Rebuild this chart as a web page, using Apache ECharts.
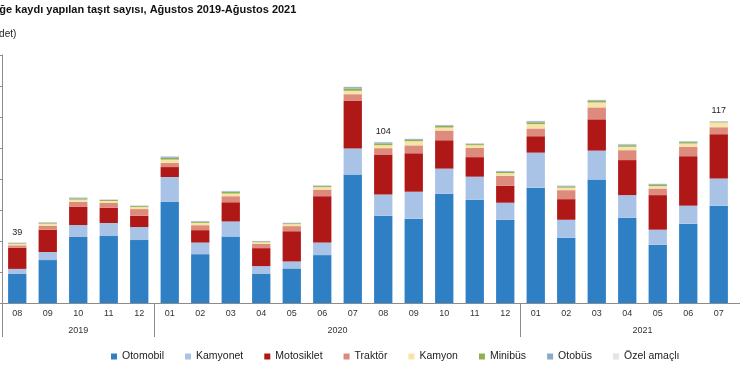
<!DOCTYPE html>
<html>
<head>
<meta charset="utf-8">
<script src="https://cdn.jsdelivr.net/npm/echarts@6/dist/echarts.min.js"></script>
<style>
  html, body { margin: 0; padding: 0; background: #fff; }
  #chart { width: 740px; height: 367px; }
</style>
</head>
<body>
<div id="chart"></div>
<script>
// Months (Ağustos 2019 - Ağustos 2021); the final month lies beyond the visible frame
const months = ['08','09','10','11','12','01','02','03','04','05','06','07','08','09','10','11','12','01','02','03','04','05','06','07','08'];
const years = ['2019', '2020', '2021'];
const yearMonthCounts = [5, 12, 8];

// Values in thousands (bin adet)
const otomobil   = [18.7, 27.7, 42.6, 43.2, 40.6, 65.2, 31.5, 42.9, 19.0, 22.3, 30.9, 82.9, 56.3, 54.4, 70.5, 66.6, 53.7, 74.4, 42.1, 79.6, 55.0, 37.6, 51.2, 62.8];
const kamyonet   = [3.3, 5.2, 7.7, 8.4, 8.4, 16.1, 7.5, 9.7, 4.8, 4.5, 8.1, 16.8, 13.7, 17.4, 16.2, 14.9, 11.0, 22.6, 11.6, 18.7, 14.6, 9.7, 11.6, 17.5];
const motosiklet = [13.7, 14.4, 11.9, 9.9, 7.3, 6.4, 8.0, 12.4, 11.6, 19.5, 29.9, 30.9, 25.8, 24.8, 18.3, 12.6, 11.0, 10.6, 13.3, 20.2, 22.6, 22.3, 31.9, 28.6];
const traktor    = [1.5, 2.4, 3.0, 3.0, 4.3, 2.6, 3.2, 3.9, 2.8, 3.3, 4.3, 4.1, 4.1, 5.1, 6.3, 6.0, 6.4, 5.0, 5.8, 7.7, 6.4, 4.3, 6.1, 4.5];
const kamyon     = [1.1, 1.5, 1.5, 1.3, 1.3, 2.2, 1.5, 1.7, 1.0, 1.3, 1.5, 2.2, 1.9, 2.7, 1.9, 1.7, 1.7, 2.8, 1.6, 3.2, 2.2, 1.5, 2.1, 3.1];
const minibus    = [0.4, 0.6, 0.8, 0.6, 0.6, 1.2, 0.7, 1.0, 0.5, 0.5, 0.7, 1.5, 1.2, 0.9, 1.0, 0.7, 0.8, 1.2, 0.8, 1.0, 1.0, 0.9, 0.9, 0.4];
const otobus     = [0.2, 0.3, 0.5, 0.3, 0.3, 0.8, 0.4, 0.5, 0.3, 0.3, 0.4, 0.9, 0.7, 0.5, 0.5, 0.4, 0.5, 0.7, 0.5, 0.5, 0.6, 0.5, 0.5, 0.3];
const ozelAmacli = [0.1, 0.2, 0.2, 0.2, 0.2, 0.3, 0.2, 0.3, 0.1, 0.2, 0.2, 0.4, 0.3, 0.3, 0.3, 0.2, 0.2, 0.3, 0.2, 0.3, 0.3, 0.3, 0.3, 0.1];

// Months whose totals are labelled
const labelledIdx = [0, 12, 23];

const seriesDefs = [
  { name: 'Otomobil',    data: otomobil,   color: '#2e7fc3' },
  { name: 'Kamyonet',    data: kamyonet,   color: '#a9c3e6' },
  { name: 'Motosiklet',  data: motosiklet, color: '#b01717' },
  { name: 'Traktör',     data: traktor,    color: '#dc8b7c' },
  { name: 'Kamyon',      data: kamyon,     color: '#f8e4a8' },
  { name: 'Minibüs',     data: minibus,    color: '#92b04f' },
  { name: 'Otobüs',      data: otobus,     color: '#8aa9cc' },
  { name: 'Özel amaçlı', data: ozelAmacli, color: '#e4e4e4' }
];

const totals = otomobil.map((_, i) => seriesDefs.reduce((s, d) => s + d.data[i], 0));

// Year grouping axis: half-category points
const nPts = months.length * 2 + 1;
const yearAxisData = new Array(nPts).fill('');
const yearTickIdx = [];
const yearLabelIdx = [];
let start = 0;
years.forEach((y, k) => {
  yearTickIdx.push(start * 2);
  const c = start * 2 + yearMonthCounts[k];
  yearAxisData[c] = y;
  yearLabelIdx.push(c);
  start += yearMonthCounts[k];
});
yearTickIdx.push(nPts - 1);

const axisColor = '#8c8c8c';
const fontFam = '"Liberation Sans", Arial, sans-serif';

const chart = echarts.init(document.getElementById('chart'), null, { renderer: 'canvas' });

const series = seriesDefs.map((d, si) => {
  const s = {
    name: d.name,
    type: 'bar',
    stack: 'total',
    xAxisIndex: 0,
    data: d.data,
    barCategoryGap: '40%',
    itemStyle: { color: d.color },
    emphasis: { disabled: true }
  };
  if (si === seriesDefs.length - 1) {
    s.label = {
      show: true,
      position: 'top',
      distance: 6,
      fontSize: 9,
      fontFamily: fontFam,
      color: '#222',
      formatter: p => labelledIdx.includes(p.dataIndex) ? String(Math.round(totals[p.dataIndex])) : ''
    };
  }
  return s;
});

chart.setOption({
  animation: false,
  backgroundColor: '#ffffff',
  textStyle: { fontFamily: fontFam },
  title: [
    {
      text: 'Trafiğe kaydı yapılan taşıt sayısı, Ağustos 2019-Ağustos 2021',
      left: -24, top: 4, padding: 0,
      textStyle: { fontSize: 11, fontWeight: 'bold', color: '#111', fontFamily: fontFam }
    },
    {
      text: '(Bin adet)',
      left: -27, top: 29, padding: 0,
      textStyle: { fontSize: 10, fontWeight: 'normal', color: '#222', fontFamily: fontFam }
    }
  ],
  legend: {
    left: 106,
    top: 346,
    itemWidth: 6,
    itemHeight: 6,
    itemGap: 21,
    icon: 'rect',
    textStyle: { fontSize: 10.5, color: '#222', fontFamily: fontFam },
    data: seriesDefs.map(d => d.name)
  },
  grid: { left: 2, right: -24.5, top: 55, bottom: 64, containLabel: false, outerBoundsMode: 'none' },
  xAxis: [
    {
      type: 'category',
      data: months,
      position: 'bottom',
      axisLine: { lineStyle: { color: axisColor, width: 1 } },
      axisTick: { length: 19, lineStyle: { color: axisColor } },
      axisLabel: { interval: 0, fontSize: 9, color: '#333', margin: 6, fontFamily: fontFam }
    },
    {
      type: 'category',
      data: yearAxisData,
      boundaryGap: false,
      position: 'bottom',
      axisLine: { show: false },
      axisTick: {
        length: 34,
        interval: (i) => yearTickIdx.includes(i),
        lineStyle: { color: axisColor }
      },
      axisLabel: {
        interval: (i) => yearLabelIdx.includes(i),
        fontSize: 9, color: '#333', margin: 23, fontFamily: fontFam
      }
    }
  ],
  yAxis: {
    type: 'value',
    min: 0,
    max: 160,
    interval: 20,
    axisLine: { show: true, lineStyle: { color: axisColor } },
    axisTick: { show: true, length: 3, lineStyle: { color: axisColor } },
    axisLabel: { show: false },
    splitLine: { show: false }
  },
  series: series
});
</script>
</body>
</html>
